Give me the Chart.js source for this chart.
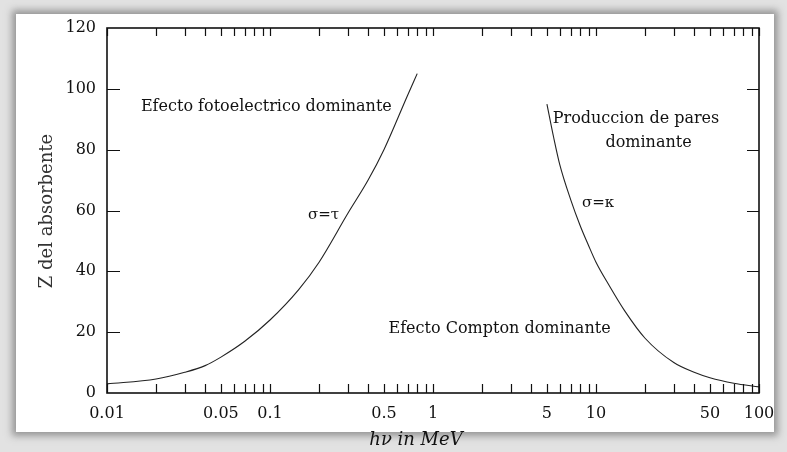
<!DOCTYPE html>
<html>
<head>
<meta charset="utf-8">
<script src="https://cdn.jsdelivr.net/npm/chart.js@4.4.1/dist/chart.umd.min.js"></script>
<style>
  html, body { margin: 0; padding: 0; background: #dedede; }
  #wrap { position: relative; width: 787px; height: 452px; overflow: hidden; background: #e2e2e2; }
  #paper { position: absolute; left: 16px; top: 14px; width: 758px; height: 418px; background: #fff;
           box-shadow: 0 0 7px 4px rgba(90,90,90,0.55); }
  canvas { position: absolute; left: 0; top: 0; }
</style>
</head>
<body>
<div id="wrap">
  <div id="paper"></div>
  <canvas id="c" width="787" height="452"></canvas>
</div>
<script>
// ---- data ----
const energyTau   = [0.01, 0.02, 0.03, 0.04, 0.05, 0.07, 0.1, 0.15, 0.2, 0.3, 0.4, 0.5, 0.7, 0.8];
const zTau        = [3, 4.6, 6.8, 9, 11.8, 17, 24, 34, 43, 59, 70, 80, 98, 105];
const energyKappa = [5, 5.5, 6, 7, 8, 9, 10, 12, 15, 20, 30, 40, 50, 70, 100];
const zKappa      = [95, 84, 75, 63.5, 55, 48.5, 43, 35.5, 27, 18, 10, 6.8, 5, 3.2, 2];
const xTickLabels = ['0.01', '0.05', '0.1', '0.5', '1', '5', '10', '50', '100'];
const yTickValues = [0, 20, 40, 60, 80, 100, 120];
const noteTexts   = ['Efecto fotoelectrico dominante', 'σ=τ', 'Produccion de pares', 'dominante', 'σ=κ', 'Efecto Compton dominante'];
const noteX       = [0.095, 0.213, 17.6, 21.0, 10.3, 2.56];
const noteY       = [94, 58.5, 90.1, 82.2, 62.5, 21];
const xTitle = 'hν in MeV';
const yTitle = 'Z del absorbente';

const SERIF = '"DejaVu Serif", "Liberation Serif", serif';

// all decade sub-ticks 1..9 x 10^k between 0.01 and 100
function logTicks(min, max) {
  const out = [];
  for (let e = Math.round(Math.log10(min)); e <= Math.round(Math.log10(max)); e++) {
    for (let m = 1; m <= 9; m++) {
      const v = +(m * Math.pow(10, e)).toPrecision(6);
      if (v >= min - 1e-12 && v <= max + 1e-12) out.push(v);
    }
  }
  return out;
}

const framePlugin = {
  id: 'frame',
  afterDraw(chart) {
    const { ctx, chartArea: { left, right, top, bottom }, scales: { x, y } } = chart;
    ctx.save();
    ctx.strokeStyle = '#111';
    ctx.lineWidth = 1.2;
    ctx.beginPath();
    x.ticks.forEach(t => {
      const px = Math.round(x.getPixelForValue(t.value)) + 0.5;
      ctx.moveTo(px, bottom); ctx.lineTo(px, bottom - 9);
      ctx.moveTo(px, top);    ctx.lineTo(px, top + 8);
    });
    y.ticks.forEach(t => {
      if (t.value <= 0 || t.value >= 120) return;
      const py = Math.round(y.getPixelForValue(t.value)) + 0.5;
      ctx.moveTo(left, py);  ctx.lineTo(left + 13, py);
      ctx.moveTo(right, py); ctx.lineTo(right - 12, py);
    });
    ctx.stroke();
    ctx.lineWidth = 1.6;
    ctx.strokeRect(left, top, right - left, bottom - top);

    // annotations in data coordinates
    ctx.fillStyle = '#111';
    ctx.textAlign = 'center';
    ctx.textBaseline = 'middle';
    noteTexts.forEach((txt, i) => {
      ctx.font = (txt.startsWith('σ') ? '15px ' : '16px ') + SERIF;
      ctx.fillText(txt, x.getPixelForValue(noteX[i]), y.getPixelForValue(noteY[i]));
    });

    // axis titles
    ctx.font = 'italic 18px ' + SERIF;
    ctx.fillText(xTitle, 416, 440);
    ctx.save();
    ctx.translate(47, 211);
    ctx.rotate(-Math.PI / 2);
    ctx.font = '18px ' + SERIF;
    ctx.fillStyle = '#333';
    ctx.fillText(yTitle, 0, 0);
    ctx.restore();
    ctx.restore();
  }
};

new Chart(document.getElementById('c'), {
  type: 'line',
  data: {
    datasets: [
      { label: 'σ=τ', data: energyTau.map((e, i) => ({ x: e, y: zTau[i] })),
        borderColor: '#222', borderWidth: 1.1, pointRadius: 0, cubicInterpolationMode: 'monotone', fill: false },
      { label: 'σ=κ', data: energyKappa.map((e, i) => ({ x: e, y: zKappa[i] })),
        borderColor: '#222', borderWidth: 1.1, pointRadius: 0, cubicInterpolationMode: 'monotone', fill: false }
    ]
  },
  options: {
    responsive: false,
    animation: false,
    devicePixelRatio: 1,
    layout: { padding: { left: 0, top: 28, right: 28, bottom: 0 } },
    plugins: { legend: { display: false }, tooltip: { enabled: false }, title: { display: false } },
    scales: {
      x: {
        type: 'logarithmic', min: 0.01, max: 100,
        grid: { display: false, drawTicks: false },
        border: { display: false },
        afterBuildTicks(s) { s.ticks = logTicks(0.01, 100).map(v => ({ value: v })); },
        afterFit(s) { s.height = 59; },
        ticks: {
          autoSkip: false, maxRotation: 0, padding: 11, color: '#111',
          font: { family: SERIF, size: 16 },
          callback(v) {
            const s = String(+v.toPrecision(6));
            return xTickLabels.includes(s) ? s : '';
          }
        }
      },
      y: {
        min: 0, max: 120,
        grid: { display: false, drawTicks: false },
        border: { display: false },
        afterBuildTicks(s) { s.ticks = yTickValues.map(v => ({ value: v })); },
        afterFit(s) { s.width = 107; },
        ticks: { padding: 11, color: '#111', font: { family: SERIF, size: 16 } }
      }
    }
  },
  plugins: [framePlugin]
});
</script>
</body>
</html>
